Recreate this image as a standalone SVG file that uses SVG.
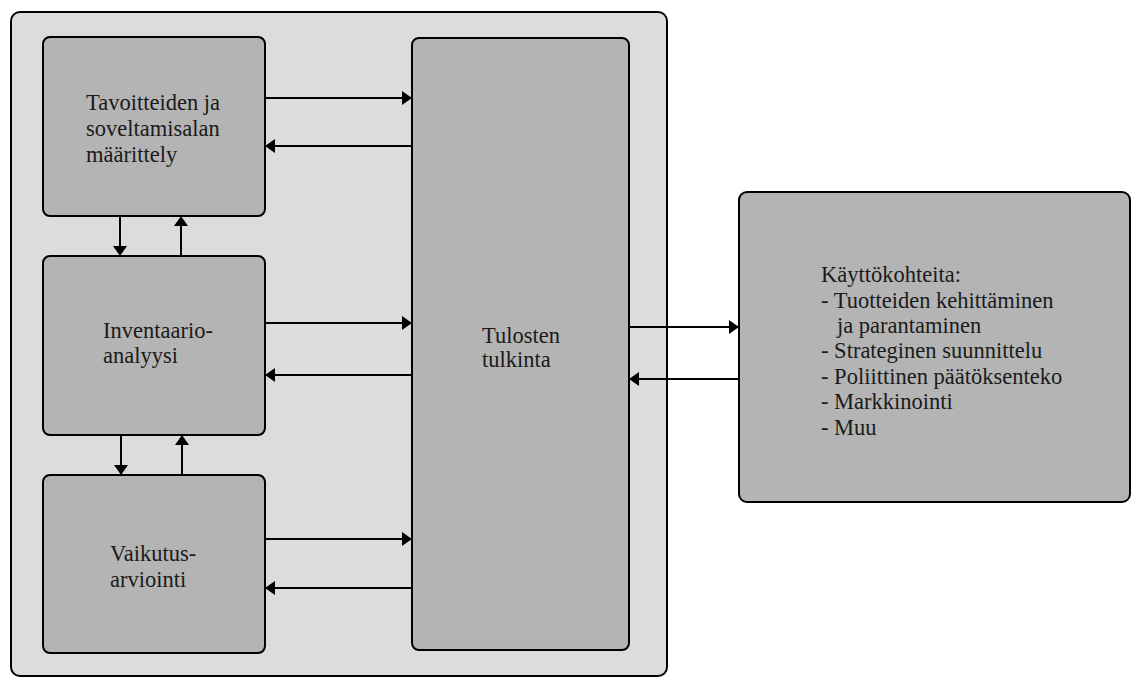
<svg xmlns="http://www.w3.org/2000/svg" width="1131" height="678" viewBox="0 0 1131 678">
<style>
.box{fill:#b4b4b4;stroke:#000;stroke-width:2}
.outer{fill:#dcdcdc;stroke:#000;stroke-width:2}
.t{font-family:'Liberation Serif','Times New Roman',serif;font-size:22.5px;fill:#1a1a1a}
.c{stroke:#000;stroke-width:2;fill:none;marker-end:url(#ah)}
</style>
<defs>
<marker id="ah" markerUnits="userSpaceOnUse" markerWidth="12" markerHeight="14" refX="10" refY="7" orient="auto">
<path d="M0,0 L10,7 L0,14 z" fill="#000"/>
</marker>
</defs>
<rect width="1131" height="678" fill="#fff"/>
<g id="frame"><rect class="outer" x="11" y="12" width="656" height="664" rx="9"/></g>
<g id="n1"><rect class="box" x="43" y="37" width="222" height="179" rx="7"/>
<text class="t" x="86" y="110">Tavoitteiden ja</text>
<text class="t" x="86" y="136">soveltamisalan</text>
<text class="t" x="86" y="162">määrittely</text></g>
<g id="n2"><rect class="box" x="43" y="256" width="222" height="179" rx="7"/>
<text class="t" x="103" y="338">Inventaario-</text>
<text class="t" x="103" y="363">analyysi</text></g>
<g id="n3"><rect class="box" x="43" y="475" width="222" height="178" rx="7"/>
<text class="t" x="110" y="561">Vaikutus-</text>
<text class="t" x="110" y="587">arviointi</text></g>
<g id="n4"><rect class="box" x="412" y="38" width="217" height="612" rx="7"/>
<text class="t" x="482" y="343">Tulosten</text>
<text class="t" x="482" y="367">tulkinta</text></g>
<g id="n5"><rect class="box" x="739" y="192" width="391" height="310" rx="8"/>
<text class="t" x="821" y="282">Käyttökohteita:</text>
<text class="t" x="821" y="308">- Tuotteiden kehittäminen</text>
<text class="t" x="837" y="333">ja parantaminen</text>
<text class="t" x="821" y="358">- Strateginen suunnittelu</text>
<text class="t" x="821" y="384">- Poliittinen päätöksenteko</text>
<text class="t" x="821" y="409">- Markkinointi</text>
<text class="t" x="821" y="435">- Muu</text></g>
<g id="connectors">
<line class="c" x1="265" y1="98" x2="412" y2="98"/>
<line class="c" x1="412" y1="146" x2="265" y2="146"/>
<line class="c" x1="265" y1="323" x2="412" y2="323"/>
<line class="c" x1="412" y1="375" x2="265" y2="375"/>
<line class="c" x1="265" y1="539" x2="412" y2="539"/>
<line class="c" x1="412" y1="588" x2="265" y2="588"/>
<line class="c" x1="120" y1="216" x2="120" y2="256"/>
<line class="c" x1="181" y1="256" x2="181" y2="216"/>
<line class="c" x1="121" y1="435" x2="121" y2="475"/>
<line class="c" x1="182" y1="475" x2="182" y2="435"/>
<line class="c" x1="629" y1="327" x2="739" y2="327"/>
<line class="c" x1="739" y1="379" x2="629" y2="379"/>
</g>
</svg>
